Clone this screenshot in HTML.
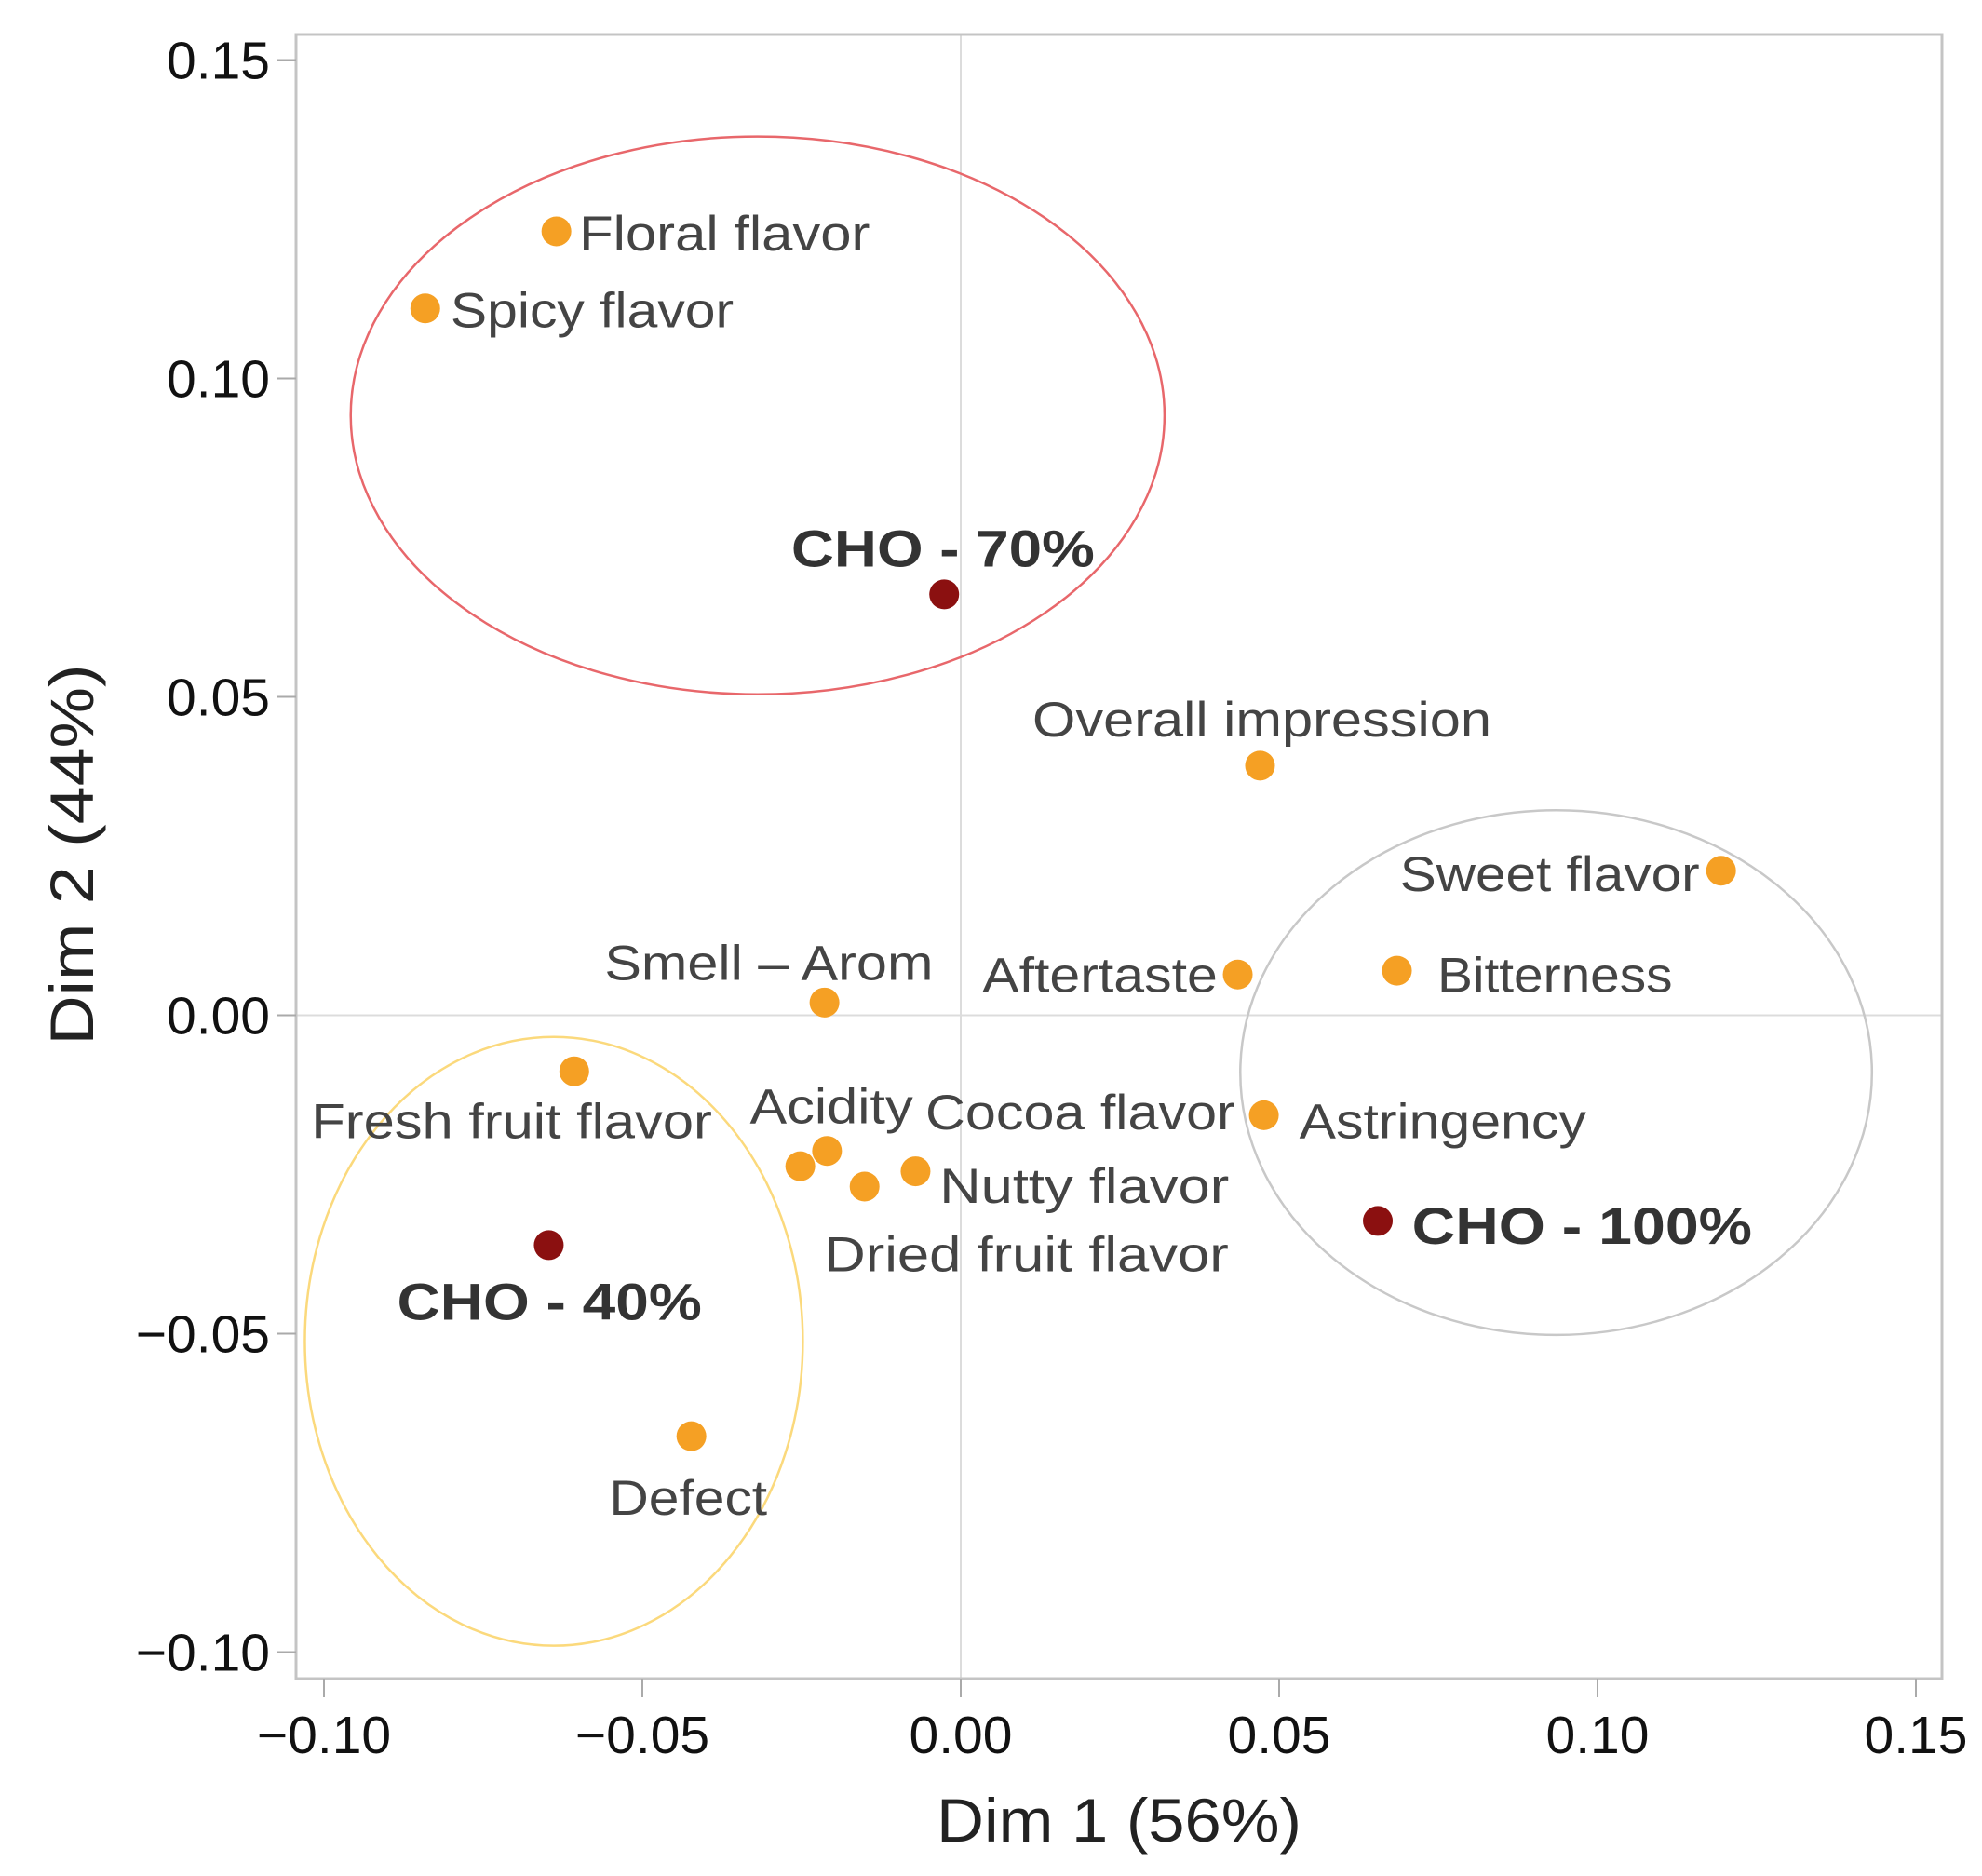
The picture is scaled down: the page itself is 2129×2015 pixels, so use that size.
<!DOCTYPE html>
<html><head><meta charset="utf-8"><style>
html,body{margin:0;padding:0;background:#fff;}
svg{display:block;font-family:"Liberation Sans",sans-serif;}
</style></head><body>
<svg id="chart" width="2129" height="2015" viewBox="0 0 2129 2015" xmlns="http://www.w3.org/2000/svg">
<g id="grid"></g>
<g id="ellipses"></g>
<g id="axes"></g>
<g id="points"></g>
<g id="labels"></g>
</svg>
<script>
const xTicks = [-0.10, -0.05, 0.00, 0.05, 0.10, 0.15];
const yTicks = [0.15, 0.10, 0.05, 0.00, -0.05, -0.10];
const xTickLabels = ["\u22120.10", "\u22120.05", "0.00", "0.05", "0.10", "0.15"];
const yTickLabels = ["0.15", "0.10", "0.05", "0.00", "\u22120.05", "\u22120.10"];
const pointNames = ["Floral flavor","Spicy flavor","CHO - 70%","Overall impression","Sweet flavor","Bitterness","Aftertaste","Smell \u2013 Arom","Fresh fruit flavor","Astringency","Acidity","Cocoa flavor","Dried fruit flavor","Nutty flavor","CHO - 100%","CHO - 40%","Defect"];
const dim1 = [-0.0635,-0.0841,-0.0026,0.0470,0.1194,0.0685,0.0435,-0.0214,-0.0607,0.0476,-0.0210,-0.0252,-0.0151,-0.0071,0.0655,-0.0647,-0.0423];
const dim2 = [0.1231,0.1110,0.0661,0.0392,0.0227,0.0070,0.0064,0.0020,-0.0088,-0.0157,-0.0213,-0.0237,-0.0269,-0.0245,-0.0323,-0.0361,-0.0661];
const isSample = [0,0,1,0,0,0,0,0,0,0,0,0,0,0,1,1,0];
const ellipseCx = [-0.0319, 0.0935, -0.0639];
const ellipseCy = [0.0942, -0.0090, -0.0512];
const ellipseRx = [0.0639, 0.0496, 0.0391];
const ellipseRy = [0.0438, 0.0412, 0.0478];
const ellipseColor = ["#e8676b", "#c8c8c8", "#fbd97c"];
// label offsets (px, display-scaled) relative to each point
const labDx = [18,20,-121,-180,-254,32,-202,-174,-208,28,-61,99,-32,19,27,-120,-65];
const labDy = [15,15,-22,-23,16,17,14,-18,53,18,-22,-29,67,25,18,59,62];
const labW = [230,224,240,363,237,186,186,260,317,227,129,245,320,229,269,241,125];

const S = 1.358;
const L = 318, R = 2086, T = 37, B = 1803;
const X0 = 1032, XPER = 342 / 0.05;
const Y0 = 1090.5, YPER = 342 / 0.05;
const sx = v => X0 + v * XPER;
const sy = v => Y0 - v * YPER;
const NS = "http://www.w3.org/2000/svg";
function mk(tag, parent, attrs) { const e = document.createElementNS(NS, tag); for (const k in attrs) e.setAttribute(k, attrs[k]); parent.appendChild(e); return e; }

const grid = document.getElementById('grid');
let gv = mk('line', grid, {x1: sx(0), x2: sx(0), y1: T, y2: B, stroke: '#dcdcdc', 'stroke-width': 2});


let gh = mk('line', grid, {x1: L, x2: R, y1: sy(0), y2: sy(0), stroke: '#dcdcdc', 'stroke-width': 2});



const eg = document.getElementById('ellipses');
for (let i = 0; i < ellipseCx.length; i++) {
  const e = mk('ellipse', eg, {cx: sx(ellipseCx[i]), cy: sy(ellipseCy[i]), rx: ellipseRx[i] * XPER, ry: ellipseRy[i] * YPER, fill: 'none', stroke: ellipseColor[i], 'stroke-width': 2.5});
  
  
}

const ax = document.getElementById('axes');
const frame = mk('rect', ax, {x: L, y: T, width: R - L, height: B - T, fill: 'none', stroke: '#c4c4c4', 'stroke-width': 3});


for (let i = 0; i < xTicks.length; i++) {
  const x = sx(xTicks[i]);
  const t = mk('line', ax, {x1: x, x2: x, y1: B, y2: B + 20, stroke: '#aaa', 'stroke-width': 2});
  
  
  const tl = mk('text', ax, {x: x, y: 1883, 'text-anchor': 'middle', 'font-size': 57, fill: '#111'});
  tl.textContent = xTickLabels[i];
  
  
}
for (let i = 0; i < yTicks.length; i++) {
  const y = sy(yTicks[i]);
  const t = mk('line', ax, {x1: L - 20, x2: L, y1: y, y2: y, stroke: '#aaa', 'stroke-width': 2});
  
  
  const tl = mk('text', ax, {x: 290, y: y + 20, 'text-anchor': 'end', 'font-size': 57, fill: '#111'});
  tl.textContent = yTickLabels[i];
  
  
}
const xt = mk('text', ax, {x: 1202, y: 1978, 'text-anchor': 'middle', 'font-size': 66, fill: '#222', textLength: 392, lengthAdjust: 'spacingAndGlyphs'});
xt.textContent = 'Dim 1 (56%)';


const yt = mk('text', ax, {x: 0, y: 0, 'text-anchor': 'middle', 'font-size': 66, fill: '#222', textLength: 409, lengthAdjust: 'spacingAndGlyphs', transform: 'translate(100,918) rotate(-90)'});
yt.textContent = 'Dim 2 (44%)';



const pg = document.getElementById('points');
const lg = document.getElementById('labels');
for (let i = 0; i < pointNames.length; i++) {
  const px = sx(dim1[i]), py = sy(dim2[i]);
  const c = mk('circle', pg, {cx: px, cy: py, r: 16, fill: isSample[i] ? '#8b1010' : '#f5a024'});
  
  
  const t = mk('text', lg, {x: px + labDx[i] * S, y: py + labDy[i] * S, 'font-size': isSample[i] ? 56 : 53, 'font-weight': isSample[i] ? 'bold' : 'normal', fill: isSample[i] ? '#333' : '#444', textLength: labW[i] * S, lengthAdjust: 'spacingAndGlyphs'});
  t.textContent = pointNames[i];
  
  
}
</script>
</body></html>
